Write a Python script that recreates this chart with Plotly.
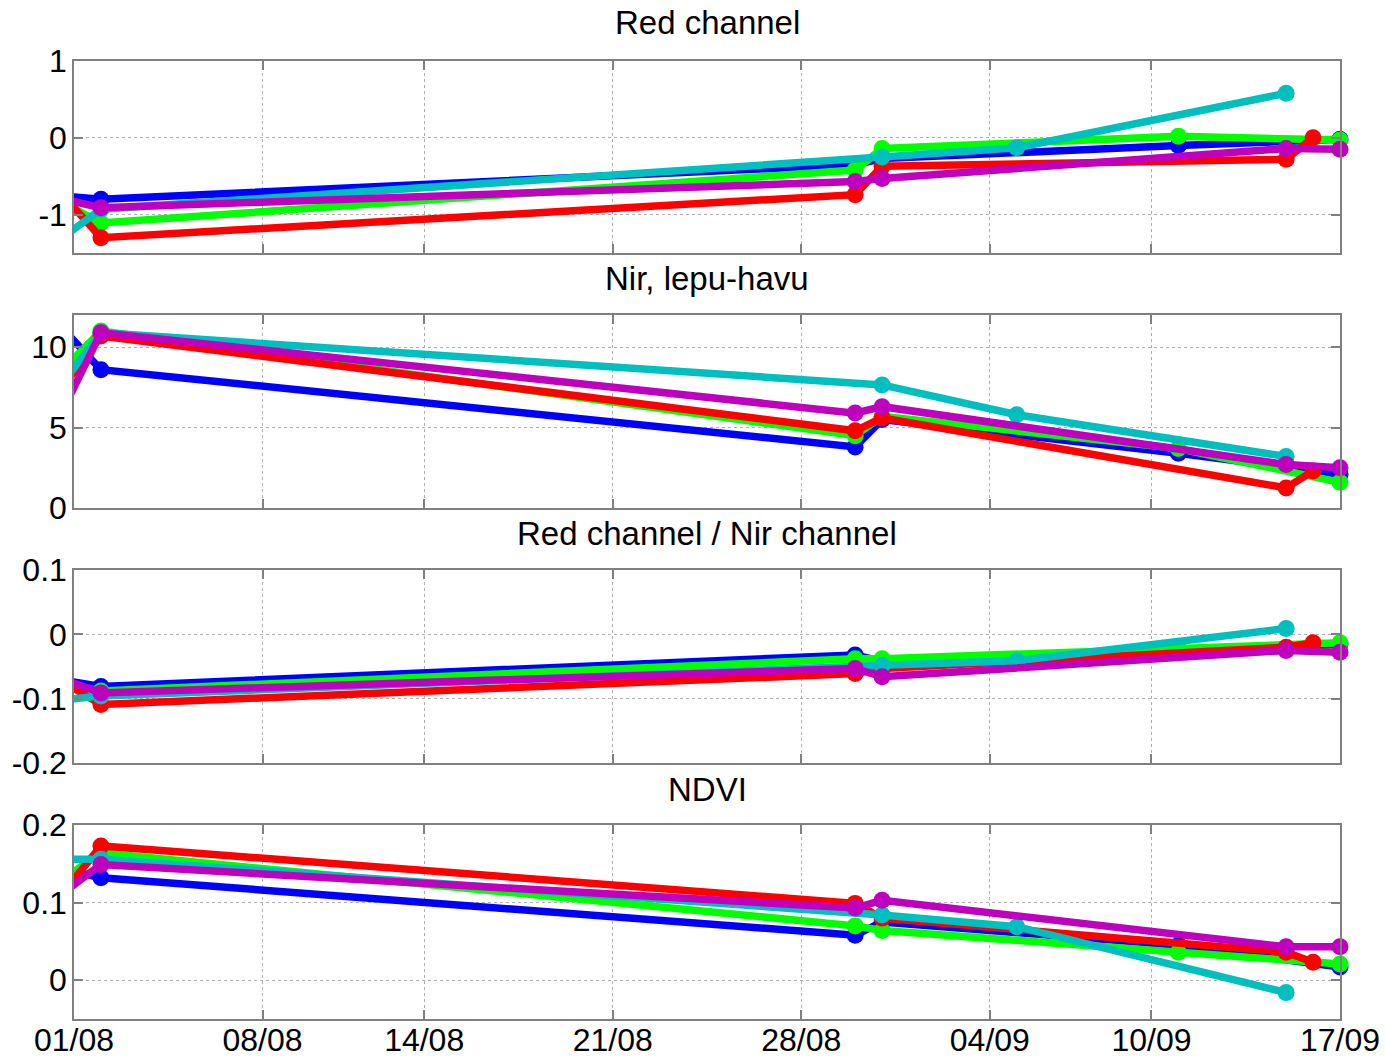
import plotly.graph_objects as go

# ---- data ----
titles = ["Red channel", "Nir, lepu-havu", "Red channel / Nir channel", "NDVI"]
series_names = ["blue", "green", "red", "cyan", "magenta"]
series_colors = ["#0000FF", "#00FF00", "#FF0000", "#00BFBF", "#BF00BF"]

dates_blue = ["2012-07-31", "2012-08-02", "2012-08-30", "2012-08-31", "2012-09-11", "2012-09-17"]
dates_green = ["2012-07-31", "2012-08-02", "2012-08-30", "2012-08-31", "2012-09-11", "2012-09-17"]
dates_red = ["2012-07-31", "2012-08-02", "2012-08-30", "2012-08-31", "2012-09-15", "2012-09-16"]
dates_cyan = ["2012-07-31", "2012-08-02", "2012-08-31", "2012-09-05", "2012-09-15"]
dates_magenta = ["2012-07-31", "2012-08-02", "2012-08-30", "2012-08-31", "2012-09-15", "2012-09-17"]

# Red channel
red_blue = [-0.74, -0.80, -0.35, -0.27, -0.10, -0.02]
red_green = [-0.73, -1.11, -0.42, -0.14, 0.02, -0.03]
red_red = [-0.52, -1.30, -0.74, -0.37, -0.28, 0.00]
red_cyan = [-1.45, -0.93, -0.25, -0.13, 0.58]
red_magenta = [-0.75, -0.91, -0.57, -0.53, -0.14, -0.15]

# Nir
nir_blue = [12.2, 8.6, 3.8, 5.5, 3.4, 2.1]
nir_green = [7.6, 11.0, 4.5, 5.7, 3.7, 1.6]
nir_red = [6.2, 10.7, 4.8, 5.6, 1.25, 2.3]
nir_cyan = [6.5, 10.9, 7.65, 5.8, 3.2]
nir_magenta = [4.1, 10.9, 5.9, 6.3, 2.7, 2.5]

# Red / Nir
ratio_blue = [-0.067, -0.081, -0.032, -0.042, -0.025, -0.015]
ratio_green = [-0.072, -0.088, -0.038, -0.038, -0.022, -0.013]
ratio_red = [-0.059, -0.109, -0.061, -0.053, -0.020, -0.013]
ratio_cyan = [-0.104, -0.096, -0.048, -0.041, 0.009]
ratio_magenta = [-0.061, -0.091, -0.053, -0.066, -0.025, -0.028]

# NDVI
ndvi_blue = [0.148, 0.132, 0.058, 0.075, 0.045, 0.017]
ndvi_green = [0.116, 0.164, 0.070, 0.064, 0.036, 0.021]
ndvi_red = [0.087, 0.173, 0.099, 0.080, 0.036, 0.023]
ndvi_cyan = [0.156, 0.156, 0.084, 0.069, -0.016]
ndvi_magenta = [0.097, 0.149, 0.093, 0.103, 0.043, 0.043]

x_tickvals = ["2012-08-01", "2012-08-08", "2012-08-14", "2012-08-21",
              "2012-08-28", "2012-09-04", "2012-09-10", "2012-09-17"]
x_ticktext = ["01/08", "08/08", "14/08", "21/08", "28/08", "04/09", "10/09", "17/09"]
x_range = ["2012-08-01", "2012-09-17"]

y_ranges = [[-1.5, 1], [0, 12], [-0.2, 0.1], [-0.05, 0.2]]
y_ticks = [[-1, 0, 1], [0, 5, 10], [-0.2, -0.1, 0, 0.1], [0, 0.1, 0.2]]
y_ticktext = [["-1", "0", "1"], ["0", "5", "10"], ["-0.2", "-0.1", "0", "0.1"], ["0", "0.1", "0.2"]]

panel_data = [
    [red_blue, red_green, red_red, red_cyan, red_magenta],
    [nir_blue, nir_green, nir_red, nir_cyan, nir_magenta],
    [ratio_blue, ratio_green, ratio_red, ratio_cyan, ratio_magenta],
    [ndvi_blue, ndvi_green, ndvi_red, ndvi_cyan, ndvi_magenta],
]
series_dates = [dates_blue, dates_green, dates_red, dates_cyan, dates_magenta]

# ---- layout geometry (pixels) ----
W, H = 1385, 1058
ml, mr, mt, mb = 74, 45, 61, 39
plot_h = H - mt - mb
panel_pix = [(61, 253), (315, 508), (570, 763), (825, 1019)]
title_pix = [22, 278, 533, 789]

def py(p):
    return (H - mb - p) / plot_h

FONT = "Liberation Sans, Arial, sans-serif"
fig = go.Figure()

for i in range(4):
    xa = "x" if i == 0 else f"x{i+1}"
    ya = "y" if i == 0 else f"y{i+1}"
    for s in range(5):
        d = series_dates[s]
        v = panel_data[i][s]
        fig.add_trace(go.Scatter(x=d, y=v, mode="lines", xaxis=xa, yaxis=ya,
                                 line=dict(color=series_colors[s], width=7.5),
                                 showlegend=False, hoverinfo="skip"))
        inside = [k for k in range(len(d)) if d[k] >= x_range[0]]
        fig.add_trace(go.Scatter(x=[d[k] for k in inside], y=[v[k] for k in inside],
                                 mode="markers", xaxis=xa, yaxis=ya, cliponaxis=False,
                                 marker=dict(color=series_colors[s], size=17, symbol="circle",
                                             line=dict(width=0)),
                                 showlegend=False))

    top, bot = panel_pix[i]
    common_axis = dict(showline=True, linecolor="#808080", linewidth=1.5, mirror="ticks",
                       ticks="inside", ticklen=9, tickcolor="#808080", tickwidth=1.5,
                       showgrid=True, gridcolor="#B0B0B0", griddash="dot", gridwidth=1,
                       zeroline=False, automargin=False,
                       tickfont=dict(family=FONT, size=32, color="black"))
    fig.layout[("xaxis" if i == 0 else f"xaxis{i+1}")] = dict(
        common_axis, type="date", range=x_range, domain=[0, 1],
        tickvals=x_tickvals, ticktext=x_ticktext if i == 3 else [""] * len(x_tickvals),
        showticklabels=(i == 3), anchor=ya, ticklabelstandoff=-8)
    fig.layout[("yaxis" if i == 0 else f"yaxis{i+1}")] = dict(
        common_axis, range=y_ranges[i], domain=[py(bot), py(top)],
        tickvals=y_ticks[i], ticktext=y_ticktext[i], anchor=xa, ticklabelstandoff=-1)
    fig.add_annotation(text=titles[i], xref="paper", yref="paper", x=0.5, y=py(title_pix[i]),
                       xanchor="center", yanchor="middle", showarrow=False,
                       font=dict(family=FONT, size=33, color="black"))

fig.update_layout(width=W, height=H, margin=dict(l=ml, r=mr, t=mt, b=mb, autoexpand=False),
                  plot_bgcolor="white", paper_bgcolor="white")

fig.write_html("out.html", config={"displayModeBar": False},
               post_script="document.body.style.margin='0';document.documentElement.style.overflow='hidden';")
